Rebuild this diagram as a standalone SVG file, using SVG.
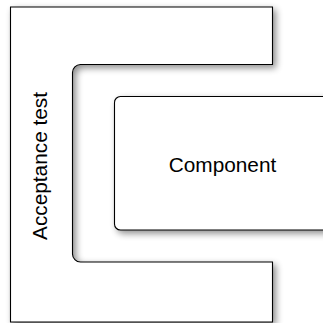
<svg xmlns="http://www.w3.org/2000/svg" width="323" height="323" viewBox="0 0 323 323">
  <defs>
    <filter id="shadow" x="-20%" y="-20%" width="140%" height="140%">
      <feGaussianBlur in="SourceAlpha" stdDeviation="3.5"/>
      <feOffset dx="3" dy="3" result="b"/>
      <feComponentTransfer><feFuncA type="linear" slope="0.45"/></feComponentTransfer>
      <feMerge><feMergeNode/><feMergeNode in="SourceGraphic"/></feMerge>
    </filter>
  </defs>
  <style>
    .shape { fill: #ffffff; stroke: #000000; stroke-width: 1.1; filter: url(#shadow); }
    .label { font-family: "Liberation Sans", Arial, sans-serif; font-size: 20.8px; fill: #000000; text-anchor: middle; }
  </style>
  <rect width="323" height="323" fill="#ffffff"/>
  <g id="acceptance-test">
    <path class="shape" d="M10.5,7 H272.5 V64.5 H80.5 A8,8 0 0 0 72.5,72.5 V254 A8,8 0 0 0 80.5,262 H272.5 V322 H10.5 Z"/>
    <text class="label" transform="translate(47,166) rotate(-90)">Acceptance test</text>
  </g>
  <g id="component">
    <rect class="shape" x="114.5" y="96.5" width="225" height="133.5" rx="6" ry="6"/>
    <text class="label" x="222.5" y="171.5">Component</text>
  </g>
  <g id="connectors"/>
</svg>
